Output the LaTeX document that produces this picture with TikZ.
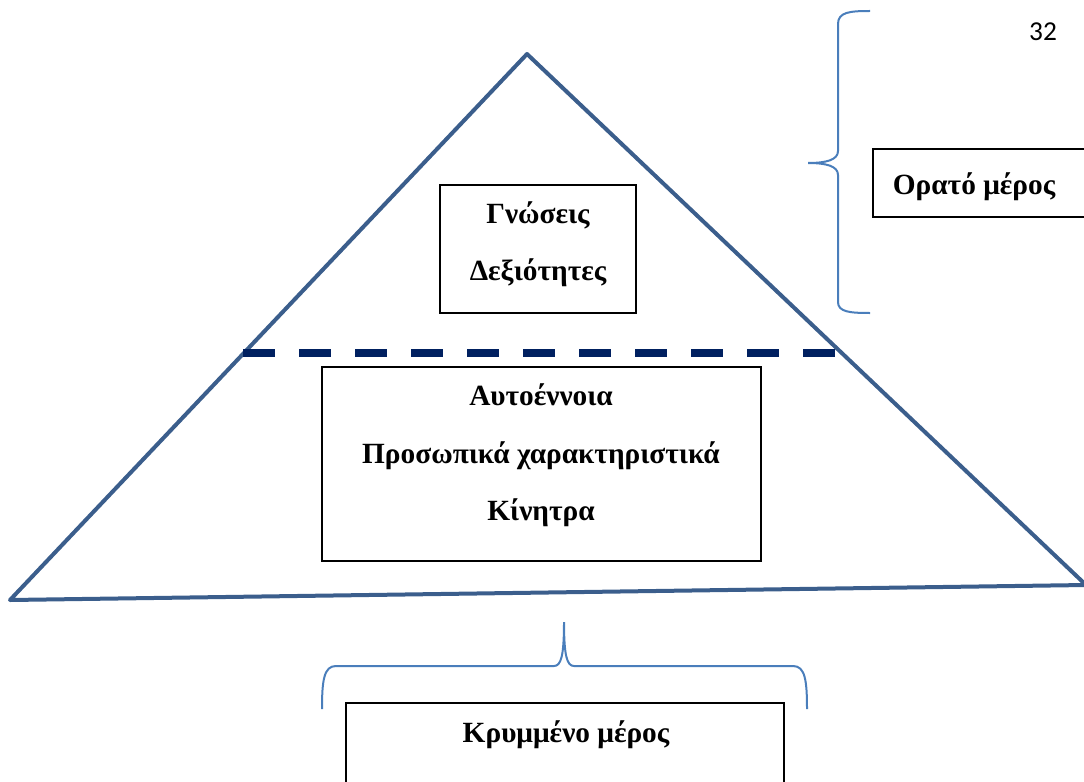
\documentclass[tikz,border=0pt]{standalone}
\usepackage{fontspec}
\setmainfont{Liberation Serif}
\newfontfamily\pagefont{Carlito}
\usetikzlibrary{fit}
\definecolor{triblue}{RGB}{59,94,140}
\definecolor{braceblue}{RGB}{74,126,187}
\definecolor{navysep}{RGB}{0,32,96}
\begin{document}
\begin{tikzpicture}[x=0.75pt,y=-0.75pt,
  tri/.style={draw=triblue,line width=3pt,line join=round},
  box/.style={draw=black,line width=1.2pt,inner sep=0pt},
  lbl/.style={font=\fontsize{22}{26}\selectfont\bfseries,anchor=base,inner sep=0pt},
  bracestyle/.style={draw=braceblue,line width=1.5pt},
  sepline/.style={draw=navysep,line width=5.6pt,dash pattern=on 24pt off 18pt}]
\useasboundingbox (0,0) rectangle (1084,781);
\clip (0,0) rectangle (1084,781);
% triangle
\coordinate (apex) at (527,54);
\coordinate (bl) at (10,600);
\coordinate (br) at (1086,585);
\draw[tri] (apex) -- (bl) -- (br) -- cycle;
% dashed separator
\coordinate (sepL) at (243,353);
\coordinate (sepR) at (838,353);
\draw[sepline] (sepL) -- (sepR);
% boxes
\node[box,fit={(440,185) (636,313)}] (know) {};
\node[lbl] (t1) at (538,223) {Γνώσεις};
\node[lbl] (t2) at (538,280) {Δεξιότητες};
\node[box,fit={(322,367) (761,561)}] (deep) {};
\node[lbl] (t3) at (541,405) {Αυτοέννοια};
\node[lbl] (t4) at (541,463) {Προσωπικά χαρακτηριστικά};
\node[lbl] (t5) at (541,520) {Κίνητρα};
\node[box,fit={(873,149) (1120,217)}] (visible) {};
\node[lbl] (t6) at (974,195) {Ορατό μέρος};
\node[box,fit={(346,703) (784,830)}] (hidden) {};
\node[lbl] (t7) at (566,742) {Κρυμμένο μέρος};
% page number
\node[font=\pagefont\fontsize{20.5}{24}\selectfont,anchor=base,inner sep=0pt] (page) at (1043,41) {32};
% right brace
\draw[bracestyle] (870,11) .. controls (850,11) and (838,12) .. (838,24)
  -- (838,151) .. controls (838,160) and (826,163) .. (808,163)
  .. controls (826,163) and (838,166) .. (838,175)
  -- (838,302) .. controls (838,312) and (850,313) .. (870,313);
% bottom brace
\draw[bracestyle] (322,709) .. controls (322,680) and (324,666) .. (336,666)
  -- (554,666) .. controls (561,666) and (564,656) .. (564,622)
  .. controls (564,656) and (567,666) .. (574,666)
  -- (793,666) .. controls (805,666) and (807,680) .. (807,709);
\end{tikzpicture}
\end{document}
